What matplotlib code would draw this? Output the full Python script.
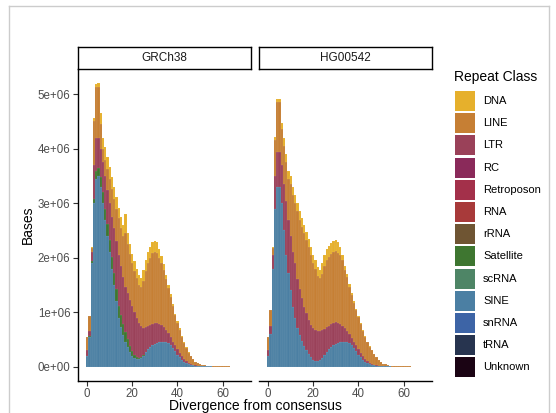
import matplotlib.pyplot as plt
import numpy as np
from matplotlib.patches import Rectangle
from matplotlib.lines import Line2D

plt.rcParams['font.family'] = ['Liberation Sans', 'DejaVu Sans']

# divergence bins (width 1), values in millions of bases
bins = list(range(70))

classes = ['DNA', 'LINE', 'LTR', 'RC', 'Retroposon', 'RNA', 'rRNA', 'Satellite',
           'scRNA', 'SINE', 'snRNA', 'tRNA', 'Unknown']
colors = ['#E6B02C', '#C67F34', '#9A4159', '#8A2A5A', '#A3304A', '#A83A3A', '#6F5533',
          '#3E7630', '#4E8566', '#4B7FA3', '#3D64A6', '#27344F', '#1B0414']

# GRCh38
sine_a = [.20, .55, 1.90, 3.00, 3.45, 3.50, 3.30, 3.00, 2.70, 2.40, 2.10, 1.80, 1.50, 1.20,
          .90, .72, .58, .45, .35, .26, .20, .16, .14, .14, .16, .20, .26, .32, .36, .40,
          .42, .44, .45, .46, .46, .45, .43, .39, .34, .28, .22, .17, .12, .09, .06, .04,
          .03, .02, .015, .01, .007, .005, .003, .002, .001, .001, 0, 0, 0, 0,
          0, 0, 0, 0, 0, 0, 0, 0, 0, 0]
sat_a = [0, .01, .03, .08, .15, .15, .18, .20, .20, .22, .22, .22, .22, .22,
         .22, .22, .20, .18, .15, .12, .09, .06, .04, .02, .01, .01, .01, 0, 0, 0,
         0, 0, 0, 0, 0, 0, 0, 0, 0, 0, 0, 0, 0, 0, 0, 0, 0, 0, 0, 0,
         0, 0, 0, 0, 0, 0, 0, 0, 0, 0, 0, 0, 0, 0, 0, 0, 0, 0, 0, 0]
ltr_a = [.10, .09, .17, .62, .60, .55, .52, .55, .60, .63, .68, .73, .83, .88,
         .93, .91, .87, .84, .85, .84, .83, .78, .72, .64, .57, .50, .45, .42, .40, .39,
         .38, .36, .34, .30, .26, .22, .18, .15, .12, .11, .10, .08, .07, .05, .04, .03,
         .02, .01, .005, .005, .003, .002, .002, .001, .001, 0, 0, 0, 0, 0,
         0, 0, 0, 0, 0, 0, 0, 0, 0, 0]
line_a = [.25, .27, .08, .81, .94, .94, .45, .25, .30, .37, .45, .52, .53, .60,
          .67, .70, .75, .98, .90, .85, .78, .76, .73, .70, .72, .87, 1.03, 1.16, 1.24, 1.29,
          1.30, 1.28, 1.21, 1.15, 1.06, .93, .83, .74, .65, .55, .48, .43, .36, .30, .24, .18,
          .14, .10, .07, .045, .03, .023, .015, .011, .008, .006, .005, .004, .003, .002,
          .002, .0015, .001, .001, .0008, .0006, .0005, .0004, .0003, .0002]
dna_a = [0, 0, .02, .05, .05, .06, .20, .20, .24, .23, .22, .22, .22, .22,
         .19, .20, .20, .35, .20, .18, .17, .17, .17, .18, .17, .20, .20, .20, .20, .20,
         .20, .20, .15, .12, .10, .08, .06, .05, .04, .03, .03, .02, .02, .01, .01, .01,
         0, 0, 0, 0, 0, 0, 0, 0, 0, 0, 0, 0, 0, 0,
         0, 0, 0, 0, 0, 0, 0, 0, 0, 0]

# HG00542
sine_b = [.20, .60, 1.80, 2.90, 3.30, 3.30, 3.00, 2.50, 2.05, 1.72, 1.40, 1.10, .90, .70,
          .58, .47, .38, .30, .23, .17, .12, .10, .10, .12, .16, .21, .27, .32, .36, .40,
          .42, .44, .45, .46, .46, .45, .43, .39, .34, .28, .22, .17, .12, .09, .06, .04,
          .03, .02, .015, .01, .007, .005, .003, .002, .001, 0, 0, 0, 0, 0,
          0, 0, 0, 0, 0, 0, 0, 0, 0, 0]
ltr_b = [.10, .15, .25, .60, .65, .65, .70, .85, 1.00, .98, 1.00, 1.00, 1.00, .90,
         .84, .78, .72, .68, .62, .59, .58, .57, .56, .54, .51, .48, .45, .43, .42, .40,
         .39, .36, .33, .29, .25, .21, .17, .14, .12, .11, .10, .08, .07, .05, .04, .03,
         .02, .01, .005, .005, .003, .002, .002, .001, .001, 0, 0, 0, 0, 0,
         0, 0, 0, 0, 0, 0, 0, 0, 0, 0]
line_b = [.25, .29, .13, .67, .91, .91, .67, .70, .70, .75, .95, 1.05, 1.10, 1.25,
          1.28, 1.32, 1.35, 1.34, 1.35, 1.29, 1.20, 1.13, 1.01, .96, 1.03, 1.16, 1.23, 1.27, 1.29, 1.31,
          1.32, 1.28, 1.27, 1.20, 1.06, .98, .87, .79, .71, .64, .59, .53, .46, .41, .35, .29,
          .25, .20, .15, .105, .07, .048, .035, .022, .014, .009, .007, .005, .003, .002,
          .0018, .0015, .0012, .001, .0008, .0006, .0005, .0004, .0003, .0002]
dna_b = [0, 0, .02, .05, .05, .05, .10, .15, .15, .15, .15, .15, .15, .15,
         .15, .15, .15, .15, .15, .15, .15, .15, .15, .15, .20, .20, .20, .20, .20, .20,
         .20, .20, .15, .10, .08, .06, .05, .04, .03, .03, .02, .02, .02, .01, .01, .01,
         0, 0, 0, 0, 0, 0, 0, 0, 0, 0, 0, 0, 0, 0,
         0, 0, 0, 0, 0, 0, 0, 0, 0, 0]

panels = [
    ('GRCh38', [('SINE', sine_a), ('Satellite', sat_a), ('LTR', ltr_a), ('LINE', line_a), ('DNA', dna_a)]),
    ('HG00542', [('SINE', sine_b), ('LTR', ltr_b), ('LINE', line_b), ('DNA', dna_b)]),
]
col = dict(zip(classes, colors))

W, H = 556, 413
fig = plt.figure(figsize=(W / 100, H / 100), dpi=100)

def fx(px):
    return px / W

def fy(py):
    return 1 - py / H

# light frame of the screenshot
for xs, ys in [([8.5, 8.5], [6, 413]), ([8.5, 548.5], [6, 6]), ([548.5, 548.5], [6, 413])]:
    fig.add_artist(Line2D([fx(v) for v in xs], [fy(v) for v in ys], color='#cccccc', lw=1))

lefts = [78, 259]
pw = 173
top, bot = 69.3, 380.7
for i, (name, layers) in enumerate(panels):
    ax = fig.add_axes([fx(lefts[i]), fy(bot), fx(pw), (bot - top) / H])
    base = np.zeros(len(bins))
    for cls, vals in layers:
        v = np.array(vals) * 1e6
        ax.bar(bins, v, width=1, bottom=base, color=col[cls], edgecolor=(1, 1, 1, 0.15),
               linewidth=0.3)
        base += v
    ax.set_xlim(-4.05, 72.6)
    ax.set_ylim(-0.26e6, 5.46e6)
    ax.set_xticks([0, 20, 40, 60])
    for s in ['top', 'right']:
        ax.spines[s].set_visible(False)
    ax.spines['bottom'].set_linewidth(1.0)
    ax.tick_params(axis='x', length=3.5, width=0.8, color='#333333', labelsize=8.3,
                   labelcolor='#4d4d4d', pad=2)
    if i == 0:
        ax.spines['left'].set_linewidth(1.0)
        ax.set_yticks([0, 1e6, 2e6, 3e6, 4e6, 5e6])
        ax.set_yticklabels([format(t, '.0e') for t in ax.get_yticks()])
        ax.tick_params(axis='y', length=3.5, width=0.8, color='#333333', labelsize=8.3,
                       labelcolor='#4d4d4d', pad=2)
        ax.set_ylabel('Bases', fontsize=10, labelpad=2)
    else:
        ax.spines['left'].set_visible(False)
        ax.set_yticks([])
    # facet strip
    sax = fig.add_axes([fx(lefts[i]), fy(68.7), fx(pw), 21.4 / H])
    sax.set_xticks([])
    sax.set_yticks([])
    for s in sax.spines.values():
        s.set_linewidth(1.0)
    sax.text(0.5, 0.5, name, ha='center', va='center', fontsize=8.5, color='#1a1a1a',
             transform=sax.transAxes)

fig.text(fx(255.5), fy(406), 'Divergence from consensus', ha='center', va='center', fontsize=10)

# legend, laid out like ggplot's guide
fig.text(fx(454), fy(77.5), 'Repeat Class', ha='left', va='center', fontsize=10)
for k, (cls, c) in enumerate(zip(classes, colors)):
    y0 = 91 + 22.2 * k
    fig.add_artist(Rectangle((fx(455), fy(y0 + 20)), fx(20), 20 / H, facecolor=c,
                             edgecolor='none', transform=fig.transFigure))
    fig.text(fx(483), fy(y0 + 10), cls, ha='left', va='center', fontsize=8)

fig.savefig('out.png', dpi=100)
